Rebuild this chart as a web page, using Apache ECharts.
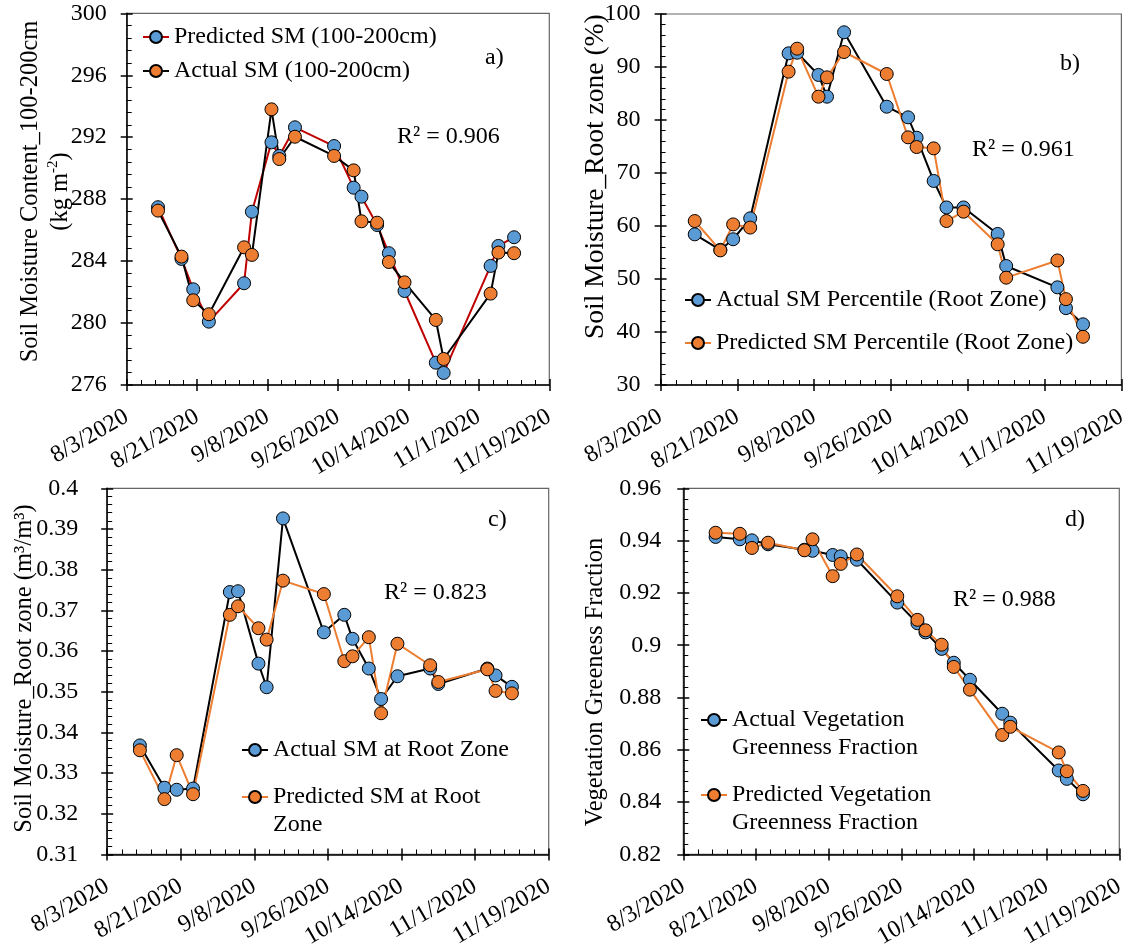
<!DOCTYPE html>
<html>
<head>
<meta charset="utf-8">
<script src="https://cdn.jsdelivr.net/npm/echarts@6/dist/echarts.min.js"></script>
<style>
  html, body { margin: 0; padding: 0; background: #fff; }
  #chart { width: 1130px; height: 951px; }
</style>
</head>
<body>
<div id="chart"></div>
<script>
const FONT = '"Times New Roman", "Liberation Serif", serif';

// Observation dates shared by all four panels
const dates = ['2020-08-11', '2020-08-17', '2020-08-20', '2020-08-24', '2020-09-02',
  '2020-09-04', '2020-09-09', '2020-09-11', '2020-09-15', '2020-09-25',
  '2020-09-30', '2020-10-02', '2020-10-06', '2020-10-09', '2020-10-13',
  '2020-10-21', '2020-10-23', '2020-11-04', '2020-11-06', '2020-11-10'];

// Date axis: first/last tick and step (days)
const xFirstDate = '2020-08-03';
const xLastDate = '2020-11-19';
const xStepDays = 18;
const xTickLabels = ['8/3/2020', '8/21/2020', '9/8/2020', '9/26/2020', '10/14/2020', '11/1/2020', '11/19/2020'];

// a) Soil moisture content, 100-200 cm layer (kg m-2)
const smDeepPredicted = [287.48, 284.14, 282.18, 280.09, 282.57, 287.19, 291.67, 290.79, 292.64, 291.43,
  288.74, 288.16, 286.33, 284.51, 282.07, 277.44, 276.78, 283.69, 284.98, 285.54];
const smDeepActual = [287.26, 284.29, 281.47, 280.57, 284.89, 284.40, 293.80, 290.59, 292.03, 290.79,
  289.86, 286.57, 286.48, 283.94, 282.63, 280.20, 277.68, 281.90, 284.55, 284.51];

// b) Root zone soil moisture percentile (%)
const smPctActual = [58.43, 55.5, 57.5, 61.45, 92.58, 92.7, 88.5, 84.4, 96.55, 82.51,
  80.5, 76.66, 68.5, 63.5, 63.5, 58.5, 52.45, 48.43, 44.5, 41.45];
const smPctPredicted = [60.94, 55.4, 60.3, 59.7, 89.12, 93.46, 84.4, 88.05, 92.83, 88.68,
  76.73, 74.9, 74.65, 60.94, 62.7, 56.55, 50.25, 53.5, 46.2, 39.1];

// c) Root zone volumetric soil moisture (m3/m3)
const smRootActual = [0.3368, 0.3264, 0.3259, 0.3262, 0.3745, 0.3747, 0.3569, 0.3511, 0.3926, 0.3646,
  0.3689, 0.3630, 0.3557, 0.3482, 0.3538, 0.3557, 0.3519, 0.3557, 0.3540, 0.3512];
const smRootPredicted = [0.3356, 0.3236, 0.3344, 0.3248, 0.3689, 0.3710, 0.3656, 0.3628, 0.3773, 0.3740,
  0.3575, 0.3587, 0.3634, 0.3447, 0.3618, 0.3565, 0.3524, 0.3555, 0.3502, 0.3496];

// d) Vegetation greenness fraction
const vgfActual = [0.9414, 0.9405, 0.9401, 0.9386, 0.9365, 0.9361, 0.9345, 0.9340, 0.9327, 0.9163,
  0.9084, 0.9049, 0.8986, 0.8933, 0.8868, 0.8738, 0.8704, 0.8521, 0.8489, 0.8430];
const vgfPredicted = [0.9430, 0.9426, 0.9372, 0.9392, 0.9363, 0.9405, 0.9264, 0.9311, 0.9347, 0.9187,
  0.9097, 0.9057, 0.9002, 0.8917, 0.8830, 0.8657, 0.8688, 0.8590, 0.8518, 0.8443];

const r2Values = ['0.906', '0.961', '0.823', '0.988'];
const panelTags = ['a)', 'b)', 'c)', 'd)'];
const yTitles = [
  'Soil Moisture Content_100-200cm\n(kg m{sup|-2})',
  'Soil Moisture_Root zone (%)',
  'Soil Moisture_Root zone (m³/m³)',
  'Vegetation Greeness Fraction'
];

const BLUE = '#5B9BD5';
const ORANGE = '#ED7D31';
const RED = '#C00000';
const BLACK = '#000000';
const FS = 24;

// Excel-style day serial for a yyyy-mm-dd string
function serial(s) {
  const [y, m, d] = s.split('-').map(Number);
  return Math.round((Date.UTC(y, m - 1, d) - Date.UTC(1899, 11, 30)) / 864e5);
}
const X_MIN = serial(xFirstDate);
const X_MAX = serial(xLastDate);
const xs = dates.map(serial);
const pairs = (vals) => vals.map((v, k) => [xs[k], v]);

const panels = [
  {
    grid: { left: 126.7, top: 13.3, width: 422.6, height: 371.7 },
    y: { min: 276, max: 300, interval: 4, labelMargin: 20 },
    title: [46, 191.5], titleSize: 24.5,
    series: [
      { name: 'Predicted SM (100-200cm)', data: smDeepPredicted, marker: BLUE, line: RED },
      { name: 'Actual SM (100-200cm)', data: smDeepActual, marker: ORANGE, line: BLACK }
    ],
    legend: [[142, 37], [142, 71]],
    r2: [397, 137], tag: [485, 58]
  },
  {
    grid: { left: 660.6, top: 14, width: 462.7, height: 371 },
    y: { min: 30, max: 100, interval: 10, labelMargin: 20 },
    title: [596, 176.7], titleSize: 27.5,
    series: [
      { name: 'Actual SM Percentile (Root Zone)', data: smPctActual, marker: BLUE, line: BLACK },
      { name: 'Predicted SM Percentile (Root Zone)', data: smPctPredicted, marker: ORANGE, line: ORANGE }
    ],
    legend: [[684, 300], [684, 343]],
    r2: [972, 150], tag: [1060, 64]
  },
  {
    grid: { left: 107.2, top: 488.3, width: 441.5, height: 369 },
    y: { min: 0.31, max: 0.4, interval: 0.01, labelMargin: 29 },
    title: [25, 668.5], titleSize: 24.5,
    series: [
      { name: 'Actual SM at Root Zone', data: smRootActual, marker: BLUE, line: BLACK },
      { name: 'Predicted SM at Root Zone', data: smRootPredicted, marker: ORANGE, line: ORANGE }
    ],
    legend: [[241, 750], [241, 797]],
    r2: [384, 593], tag: [488, 520]
  },
  {
    grid: { left: 683.3, top: 488.3, width: 436, height: 371 },
    y: { min: 0.82, max: 0.96, interval: 0.02, labelMargin: 22 },
    title: [596, 682], titleSize: 24.5,
    series: [
      { name: 'Actual Vegetation Greenness Fraction', data: vgfActual, marker: BLUE, line: BLACK },
      { name: 'Predicted Vegetation Greenness Fraction', data: vgfPredicted, marker: ORANGE, line: ORANGE }
    ],
    legend: [[700, 720], [700, 795]],
    r2: [953, 600], tag: [1065, 520]
  }
];

// Legend entries that break onto a second line
const legendWrap = {
  'Predicted SM at Root Zone': 'Predicted SM at Root\nZone',
  'Actual Vegetation Greenness Fraction': 'Actual Vegetation\nGreenness Fraction',
  'Predicted Vegetation Greenness Fraction': 'Predicted Vegetation\nGreenness Fraction'
};

const AXIS_W = 1.5;
const grids = [], xAxes = [], yAxes = [], series = [], legends = [], graphics = [];

panels.forEach((p, i) => {
  grids.push(Object.assign({ show: true, borderColor: '#666666', borderWidth: 1.2, containLabel: false }, p.grid));

  // main x axis: line, labels, inner ticks
  xAxes.push({
    type: 'value', gridIndex: i, position: 'bottom', min: X_MIN, max: X_MAX, interval: xStepDays,
    axisLine: { show: true, onZero: false, lineStyle: { color: BLACK, width: AXIS_W } },
    axisTick: { show: true, inside: true, length: 6, lineStyle: { color: BLACK, width: AXIS_W } },
    minorTick: { show: true, splitNumber: 5, length: 5, lineStyle: { color: BLACK, width: 1 } },
    splitLine: { show: false },
    axisLabel: {
      show: true, rotate: 30, margin: 30, fontSize: FS, fontFamily: FONT, color: BLACK,
      showMinLabel: true, showMaxLabel: true,
      formatter: (v) => xTickLabels[Math.round((v - X_MIN) / xStepDays)] || ''
    }
  });
  // outer half of the major x ticks
  xAxes.push({
    type: 'value', gridIndex: i, position: 'bottom', offset: 0, min: X_MIN, max: X_MAX, interval: xStepDays,
    axisLine: { show: false, onZero: false },
    axisTick: { show: true, inside: false, length: 6, lineStyle: { color: BLACK, width: AXIS_W } },
    axisLabel: { show: false }, splitLine: { show: false }
  });

  yAxes.push({
    type: 'value', gridIndex: i, position: 'left', min: p.y.min, max: p.y.max, interval: p.y.interval,
    axisLine: { show: true, onZero: false, lineStyle: { color: BLACK, width: AXIS_W } },
    axisTick: { show: true, inside: true, length: 6, lineStyle: { color: BLACK, width: AXIS_W } },
    minorTick: { show: true, splitNumber: 5, length: 5, lineStyle: { color: BLACK, width: 1 } },
    splitLine: { show: false },
    axisLabel: { show: true, margin: p.y.labelMargin, fontSize: FS, fontFamily: FONT, color: BLACK }
  });
  // outer half of the major y ticks
  yAxes.push({
    type: 'value', gridIndex: i, position: 'left', offset: 0, min: p.y.min, max: p.y.max, interval: p.y.interval,
    axisLine: { show: false, onZero: false },
    axisTick: { show: true, inside: false, length: 6, lineStyle: { color: BLACK, width: AXIS_W } },
    axisLabel: { show: false }, splitLine: { show: false }
  });

  p.series.forEach((s, k) => {
    series.push({
      type: 'line', name: s.name, xAxisIndex: 2 * i, yAxisIndex: 2 * i,
      data: pairs(s.data),
      symbol: 'circle', symbolSize: 13, showSymbol: true,
      itemStyle: { color: s.marker, borderColor: BLACK, borderWidth: 1 },
      lineStyle: { color: s.line, width: 2 },
      emphasis: { disabled: true },
      animation: false
    });

    const LH = (i >= 2) ? 28 : 26;
    const wrapped = legendWrap[s.name];
    const lines = wrapped ? 3 : 1;
    const [lx, cy] = p.legend[k];
    legends.push({
      data: [s.name], orient: 'vertical', left: lx, top: cy - lines * LH / 2,
      padding: 0, itemWidth: 26, itemHeight: 15, selectedMode: false,
      textStyle: { fontSize: FS, fontFamily: FONT, color: BLACK, lineHeight: LH },
      formatter: (name) => legendWrap[name] ? '\n' + legendWrap[name] : name
    });
  });

  // vertical axis title
  graphics.push({
    type: 'text', x: p.title[0], y: p.title[1], rotation: Math.PI / 2, silent: true,
    style: {
      text: yTitles[i], font: p.titleSize + 'px ' + FONT, fill: BLACK, align: 'center', verticalAlign: 'middle',
      lineHeight: 30,
      rich: { sup: { fontSize: 15, fontFamily: FONT, fill: BLACK, verticalAlign: 'top' } }
    }
  });
  graphics.push({
    type: 'text', x: p.r2[0], y: p.r2[1], silent: true,
    style: { text: 'R² = ' + r2Values[i], font: FS + 'px ' + FONT, fill: BLACK, align: 'left', verticalAlign: 'middle' }
  });
  graphics.push({
    type: 'text', x: p.tag[0], y: p.tag[1], silent: true,
    style: { text: panelTags[i], font: FS + 'px ' + FONT, fill: BLACK, align: 'left', verticalAlign: 'middle' }
  });
});

const chart = echarts.init(document.getElementById('chart'), null, { renderer: 'canvas' });
chart.setOption({
  backgroundColor: '#fff',
  animation: false,
  textStyle: { fontFamily: FONT },
  grid: grids,
  xAxis: xAxes,
  yAxis: yAxes,
  legend: legends,
  series: series,
  graphic: graphics
});
</script>
</body>
</html>
